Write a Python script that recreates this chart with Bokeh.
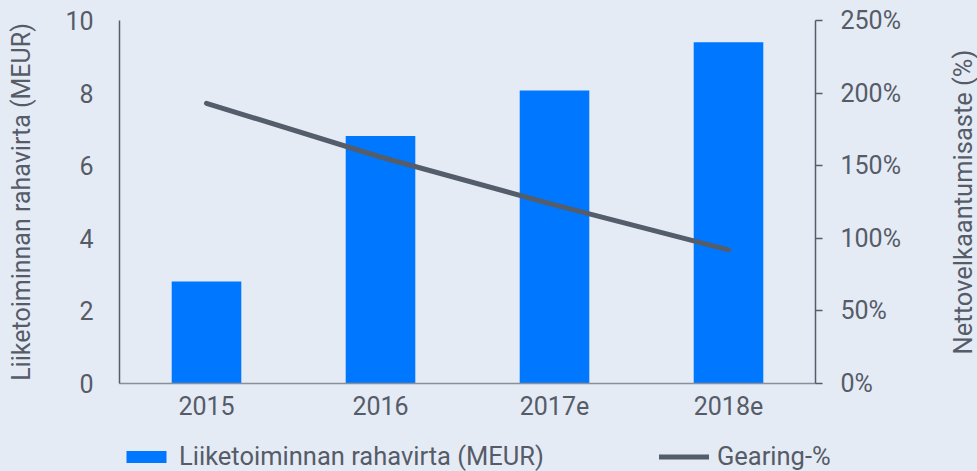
import math
from bokeh.plotting import figure
from bokeh.models import (Range1d, LinearAxis, FixedTicker, PrintfTickFormatter,
                          Legend, LegendItem, ColumnDataSource, FactorRange)
from bokeh.layouts import row, column
from bokeh.embed import file_html
from bokeh.resources import INLINE

categories = ["2015", "2016", "2017e", "2018e"]
cash_flow = [2.81, 6.82, 8.07, 9.40]
gearing = [193, 156, 123, 92]
left_ticks = [0, 2, 4, 6, 8, 10]
right_ticks = [0, 50, 100, 150, 200, 250]
left_title = "Liiketoiminnan rahavirta (MEUR)"
right_title = "Nettovelkaantumisaste (%)"
bar_name = "Liiketoiminnan rahavirta (MEUR)"
line_name = "Gearing-%"

BG = "#e5ebf5"
TXT = "#555c68"
BLUE = "#0077ff"
LINE = "#545d6b"
FONT = "Roboto"
FS_TICK = "25px"
FS_LAB = "25.5px"

src = ColumnDataSource(dict(cat=categories, cf=cash_flow, g=gearing))

# ---------------- main chart ----------------
p = figure(width=945, height=430, x_range=FactorRange(*categories), y_range=Range1d(0, 10),
           output_backend="svg", toolbar_location=None, title=None,
           background_fill_color=BG, border_fill_color=BG)
p.min_border_left = 119
p.min_border_right = 130
p.min_border_top = 20
p.min_border_bottom = 47
p.outline_line_color = None
p.grid.visible = False
p.extra_y_ranges = {"pct": Range1d(0, 250)}

p.vbar(x="cat", top="cf", width=0.4, source=src, fill_color=BLUE, line_color=None)
p.line(x="cat", y="g", source=src, y_range_name="pct", line_color=LINE,
       line_width=5, line_cap="round")

ya = p.yaxis[0]
ya.ticker = FixedTicker(ticks=left_ticks)
ya.axis_label = left_title
ya.major_tick_out = 0
ya.major_tick_in = 0
ya.minor_tick_out = 0
ya.minor_tick_in = 0
ya.axis_line_color = LINE
ya.axis_line_width = 1.5
ya.major_label_standoff = 26
ya.axis_label_standoff = 26

xa = p.xaxis[0]
xa.major_tick_out = 0
xa.major_tick_in = 0
xa.axis_line_color = "#8a8f98"
xa.axis_line_width = 1.5
xa.major_label_standoff = 12

ra = LinearAxis(y_range_name="pct", ticker=FixedTicker(ticks=right_ticks),
                formatter=PrintfTickFormatter(format="%d%%"))
ra.major_tick_out = 7
ra.major_tick_in = 0
ra.minor_tick_out = 0
ra.minor_tick_in = 0
ra.axis_line_color = LINE
ra.axis_line_width = 1.5
ra.major_tick_line_color = LINE
ra.major_tick_line_width = 1.5
ra.major_label_standoff = 18
p.add_layout(ra, "right")

for ax in [ya, xa, ra]:
    ax.major_label_text_font = FONT
    ax.major_label_text_font_size = FS_TICK
    ax.major_label_text_color = TXT
    ax.axis_label_text_font = FONT
    ax.axis_label_text_font_size = FS_LAB
    ax.axis_label_text_color = TXT
    ax.axis_label_text_font_style = "normal"
ya.axis_label_text_font_size = "25px"

# ---------------- right axis title (reads bottom-to-top, via a left-side axis label) ----------------
lab = figure(width=32, height=430, x_range=Range1d(0, 1), y_range=Range1d(0, 1),
             output_backend="svg", toolbar_location=None, title=None,
             x_axis_location=None,
             background_fill_color=BG, border_fill_color=BG, min_border=0)
lab.min_border_top = 20
lab.min_border_bottom = 47
lab.outline_line_color = None
lab.grid.visible = False
la = lab.yaxis[0]
la.ticker = FixedTicker(ticks=[])
la.axis_line_color = None
la.major_tick_out = 0
la.major_tick_in = 0
la.minor_tick_out = 0
la.minor_tick_in = 0
la.major_label_standoff = 0
la.axis_label = right_title
la.axis_label_standoff = 0
la.axis_label_text_font = FONT
la.axis_label_text_font_size = FS_LAB
la.axis_label_text_color = TXT
la.axis_label_text_font_style = "normal"

# ---------------- legend row ----------------
lf = figure(width=977, height=41, x_range=FactorRange(*categories), y_range=Range1d(0, 10),
            output_backend="svg", toolbar_location=None, title=None,
            x_axis_location=None, y_axis_location=None,
            background_fill_color=BG, border_fill_color=BG, min_border=0)
lf.outline_line_color = None
lf.grid.visible = False
lbars = lf.vbar(x="cat", top="cf", width=0.4, source=src, fill_color=BLUE, line_color=None)
lline = lf.line(x="cat", y="cf", source=src, line_color=LINE, line_width=5, line_cap="round")
lbars.visible = False
lline.visible = False

legend = Legend(items=[LegendItem(label=bar_name, renderers=[lbars]),
                       LegendItem(label=line_name, renderers=[lline])],
                orientation="horizontal", location=(121, 0),
                background_fill_alpha=0, border_line_color=None,
                inactive_fill_alpha=0,
                label_text_font=FONT, label_text_font_size=FS_LAB, label_text_color=TXT,
                glyph_width=50, glyph_height=15, label_standoff=8, spacing=115,
                padding=0, margin=0)
lf.add_layout(legend, "center")

layout = column(row(p, lab), lf)

html = file_html(layout, INLINE)
html = html.replace("<body>", '<body style="background:%s">' % BG)
open("out.html", "w").write(html)
